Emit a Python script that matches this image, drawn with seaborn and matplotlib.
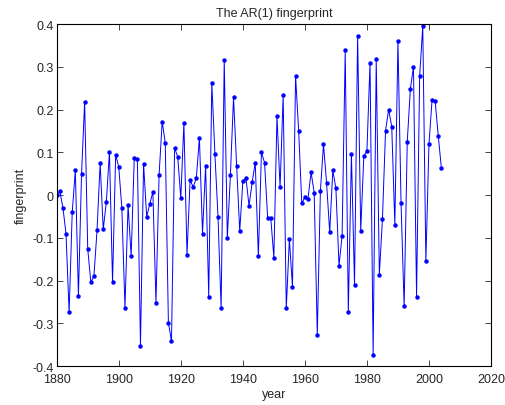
import numpy as np
import pandas as pd
import matplotlib
matplotlib.use("Agg")
import matplotlib.pyplot as plt
import seaborn as sns

years = list(range(1880, 2005))
fingerprint = [
    0.000, 0.009, -0.029, -0.090, -0.274, -0.040, 0.058, -0.235, 0.049, 0.218,
    -0.126, -0.204, -0.189, -0.082, 0.075, -0.080, -0.016, 0.101, -0.204, 0.094,
    0.066, -0.031, -0.263, -0.023, -0.143, 0.087, 0.084, -0.352, 0.073, -0.050,
    -0.021, 0.008, -0.252, 0.047, 0.172, 0.122, -0.298, -0.342, 0.110, 0.090,
    -0.007, 0.169, -0.139, 0.035, 0.019, 0.040, 0.134, -0.090, 0.069, -0.237,
    0.263, 0.096, -0.052, -0.265, 0.317, -0.100, 0.048, 0.229, 0.069, -0.084,
    0.032, 0.040, -0.025, 0.030, 0.076, -0.142, 0.100, 0.076, -0.053, -0.053,
    -0.146, 0.185, 0.018, 0.234, -0.265, -0.103, -0.214, 0.278, 0.150, -0.019,
    -0.005, -0.008, 0.053, 0.006, -0.327, 0.010, 0.119, 0.028, -0.087, 0.058,
    0.016, -0.165, -0.095, 0.339, -0.274, 0.097, -0.210, 0.373, -0.084, 0.092,
    0.103, 0.310, -0.373, 0.318, -0.186, -0.056, 0.150, 0.200, 0.160, -0.069,
    0.361, -0.019, -0.260, 0.125, 0.248, 0.300, -0.237, 0.279, 0.395, -0.155,
    0.119, 0.223, 0.219, 0.138, 0.063,
]
xticks = [1880, 1900, 1920, 1940, 1960, 1980, 2000, 2020]
yticks = [-0.4, -0.3, -0.2, -0.1, 0, 0.1, 0.2, 0.3, 0.4]
ytick_labels = ["-0.4", "-0.3", "-0.2", "-0.1", "0", "0.1", "0.2", "0.3", "0.4"]

sns.set_theme(style="white")
plt.rcParams["font.family"] = ["Liberation Sans", "DejaVu Sans"]
plt.rcParams["xtick.direction"] = "in"
plt.rcParams["ytick.direction"] = "in"

df = pd.DataFrame({"year": years, "fingerprint": fingerprint})

fig = plt.figure(figsize=(5.05, 4.06), dpi=100)
ax = fig.add_axes([0.1123, 0.0955, 0.8600, 0.8428])

sns.lineplot(data=df, x="year", y="fingerprint", ax=ax, color="#0000ff",
             linewidth=0.7, marker="o", markersize=3.2, markeredgewidth=0,
             markerfacecolor="#0000ff")

ax.set_xlim(1880, 2020)
ax.set_ylim(-0.4, 0.4)
ax.set_xticks(xticks)
ax.set_xticklabels([str(t) for t in xticks])
ax.set_yticks(yticks)
ax.set_yticklabels(ytick_labels)
ax.tick_params(axis="both", which="both", direction="in", length=4, width=0.6,
               labelsize=9, colors="#262626", top=True, right=True,
               bottom=True, left=True, pad=2)
ax.tick_params(axis="x", pad=5)
for s in ax.spines.values():
    s.set_visible(True)
    s.set_color("black")
    s.set_linewidth(0.8)
ax.grid(False)
ax.set_xlabel("year", fontsize=9, color="#262626", labelpad=2)
ax.set_ylabel("fingerprint", fontsize=9, color="#262626", labelpad=4)
ax.set_title("The AR(1) fingerprint", fontsize=9, color="#262626", pad=6)
ax.set_facecolor("white")
fig.patch.set_facecolor("white")

fig.savefig("out.png", dpi=100, facecolor="white")
